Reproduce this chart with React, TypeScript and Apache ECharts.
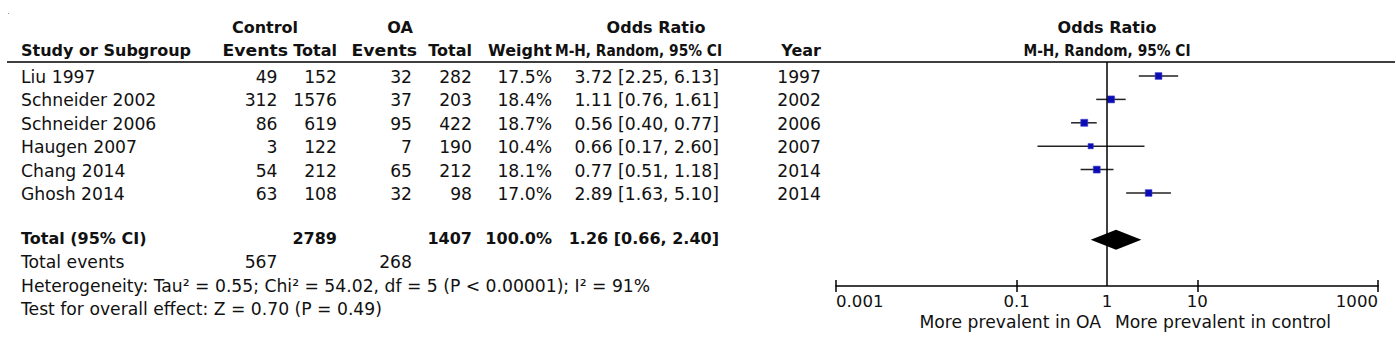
import React, { useEffect, useRef } from 'react';
import * as echarts from 'echarts';

// ---------- data ----------
const studies = ['Liu 1997', 'Schneider 2002', 'Schneider 2006', 'Haugen 2007', 'Chang 2014', 'Ghosh 2014'];
const controlEvents = [49, 312, 86, 3, 54, 63];
const controlTotal = [152, 1576, 619, 122, 212, 108];
const oaEvents = [32, 37, 95, 7, 65, 32];
const oaTotal = [282, 203, 422, 190, 212, 98];
const weights = [17.5, 18.4, 18.7, 10.4, 18.1, 17.0];
const oddsRatio = [3.72, 1.11, 0.56, 0.66, 0.77, 2.89];
const ciLow = [2.25, 0.76, 0.40, 0.17, 0.51, 1.63];
const ciHigh = [6.13, 1.61, 0.77, 2.60, 1.18, 5.10];
const years = [1997, 2002, 2006, 2007, 2014, 2014];

const totalLabel = 'Total (95% CI)';
const totalControl = 2789;
const totalOA = 1407;
const totalWeight = 100.0;
const totalOR = 1.26;
const totalLow = 0.66;
const totalHigh = 2.40;
const totalEventsLabel = 'Total events';
const totalEventsControl = 567;
const totalEventsOA = 268;
const heterogeneityText = 'Heterogeneity: Tau² = 0.55; Chi² = 54.02, df = 5 (P < 0.00001); I² = 91%';
const overallEffectText = 'Test for overall effect: Z = 0.70 (P = 0.49)';

const tickValues = [0.001, 0.1, 10, 1000];
const tickLabels = [0.001, 0.1, 1, 10, 1000];
const favourLeft = 'More prevalent in OA';
const favourRight = 'More prevalent in control';
const plotTitle = 'Odds Ratio';
const plotSubtitle = 'M-H, Random, 95% CI';

// ---------- layout ----------
const W = 1396;
const H = 357;
const FONT = '"DejaVu Sans", "Noto Sans", sans-serif';
const REG = `17.2px ${FONT}`;
const BOLD = `bold 16px ${FONT}`;
const INK = '#111';
const plotLeft = 836;
const plotRight = 18;
const plotTop = 62;
const plotBottomY = 286;
const rowStep = 23.4;
const firstRowY = 76;
const nameX = 21;
const col = {
  cEvents: 277.5,
  cTotal: 337,
  oEvents: 412,
  oTotal: 472,
  weight: 552,
  or: 719,
  year: 821,
};

const fmt2 = (v: number) => v.toFixed(2);
const orText = (o: number, l: number, h: number) => `${fmt2(o)} [${fmt2(l)}, ${fmt2(h)}]`;
const axisFmt = (v: number) => {
  const r = Math.pow(10, v);
  return r >= 1 ? String(Math.round(r)) : String(parseFloat(r.toPrecision(3)));
};

function txt(text: string, x: number, y: number, align: string, font: string, scaleX = 1) {
  return {
    type: 'text',
    x,
    y,
    scaleX,
    silent: true,
    style: { text, fill: INK, font, align, verticalAlign: 'middle' },
  };
}

export default function App() {
  const ref = useRef<HTMLDivElement>(null);

  useEffect(() => {
    if (!ref.current) return;
    const chart = echarts.init(ref.current, undefined, { renderer: 'svg' });

    const yMin = -(firstRowY - plotTop) / rowStep;
    const yMax = (plotBottomY - plotTop) / rowStep + yMin;
    const plotWidth = W - plotLeft - plotRight;
    const oneX = plotLeft + plotWidth / 2;

    const graphic: any[] = [];
    // header
    graphic.push(txt('Control', 265, 27, 'center', BOLD));
    graphic.push(txt('OA', 400, 27, 'center', BOLD));
    graphic.push(txt(plotTitle, 656, 27, 'center', BOLD));
    graphic.push(txt(plotTitle, oneX, 27, 'center', BOLD));
    graphic.push(txt('Study or Subgroup', nameX, 50.5, 'left', BOLD));
    graphic.push(txt('Events', 288, 50.5, 'right', BOLD, 1.08));
    graphic.push(txt('Total', col.cTotal, 50.5, 'right', BOLD));
    graphic.push(txt('Events', 417, 50.5, 'right', BOLD, 1.08));
    graphic.push(txt('Total', col.oTotal, 50.5, 'right', BOLD));
    graphic.push(txt('Weight', col.weight, 50.5, 'right', BOLD));
    graphic.push(txt(plotSubtitle, 722, 50.5, 'right', BOLD, 0.86));
    graphic.push(txt('Year', col.year, 50.5, 'right', BOLD));
    graphic.push(txt(plotSubtitle, oneX, 50.5, 'center', BOLD, 0.86));
    graphic.push({
      type: 'line',
      silent: true,
      shape: { x1: 7, y1: plotTop, x2: 1395, y2: plotTop },
      style: { stroke: '#000', lineWidth: 1.6 },
    });
    graphic.push({ type: 'rect', silent: true, shape: { x: 8, y: 13, width: 1, height: 1 }, style: { fill: '#999' } });

    // study rows
    studies.forEach((s, i) => {
      const y = firstRowY + 1 + i * rowStep;
      graphic.push(txt(s, nameX, y, 'left', REG));
      graphic.push(txt(String(controlEvents[i]), col.cEvents, y, 'right', REG));
      graphic.push(txt(String(controlTotal[i]), col.cTotal, y, 'right', REG));
      graphic.push(txt(String(oaEvents[i]), col.oEvents, y, 'right', REG));
      graphic.push(txt(String(oaTotal[i]), col.oTotal, y, 'right', REG));
      graphic.push(txt(`${weights[i].toFixed(1)}%`, col.weight, y, 'right', REG));
      graphic.push(txt(orText(oddsRatio[i], ciLow[i], ciHigh[i]), col.or, y, 'right', REG));
      graphic.push(txt(String(years[i]), col.year, y, 'right', REG));
    });

    // totals
    const tY = 238.5;
    graphic.push(txt(totalLabel, nameX, tY, 'left', BOLD));
    graphic.push(txt(String(totalControl), col.cTotal, tY, 'right', BOLD));
    graphic.push(txt(String(totalOA), col.oTotal, tY, 'right', BOLD));
    graphic.push(txt(`${totalWeight.toFixed(1)}%`, col.weight, tY, 'right', BOLD));
    graphic.push(txt(orText(totalOR, totalLow, totalHigh), col.or, tY, 'right', BOLD));
    graphic.push(txt(totalEventsLabel, nameX, 262, 'left', REG));
    graphic.push(txt(String(totalEventsControl), col.cEvents, 262, 'right', REG));
    graphic.push(txt(String(totalEventsOA), col.oEvents, 262, 'right', REG));
    graphic.push(txt(heterogeneityText, nameX, 285.5, 'left', REG));
    graphic.push(txt(overallEffectText, nameX, 309, 'left', REG));

    // favour labels
    graphic.push(txt(favourLeft, oneX - 6, 322, 'right', REG));
    graphic.push(txt(favourRight, oneX + 8, 322, 'left', REG));

    const studyData = studies.map((_, i) => [
      i,
      Math.log10(oddsRatio[i]),
      Math.log10(ciLow[i]),
      Math.log10(ciHigh[i]),
      weights[i],
    ]);
    const totalData = [[studies.length + 1, Math.log10(totalOR), Math.log10(totalLow), Math.log10(totalHigh)]];

    const logTicks = tickValues.map((v) => Math.log10(v));
    const logLabels = tickLabels.map((v) => Math.log10(v));

    chart.setOption({
      animation: false,
      backgroundColor: '#fff',
      grid: {
        left: plotLeft,
        right: plotRight,
        top: plotTop,
        bottom: H - plotBottomY,
        containLabel: false,
        outerBoundsMode: 'none',
      },
      xAxis: [
        {
          type: 'value',
          min: -3,
          max: 3,
          interval: 1,
          position: 'bottom',
          axisLine: { show: true, onZero: false, lineStyle: { color: '#000', width: 1.5 } },
          axisTick: { show: true, customValues: logTicks, length: 6, lineStyle: { color: '#000', width: 1.5 } },
          axisLabel: {
            show: true,
            customValues: logLabels,
            formatter: (v: number) => axisFmt(v),
            margin: 7,
            color: INK,
            fontSize: 16.6,
            fontFamily: FONT,
            alignMinLabel: 'left',
            alignMaxLabel: 'right',
          },
          splitLine: { show: false },
        },
        {
          type: 'value',
          min: -3,
          max: 3,
          interval: 1,
          position: 'bottom',
          axisLine: { show: false, onZero: false },
          axisTick: { show: true, inside: true, customValues: logTicks, length: 6, lineStyle: { color: '#000', width: 1.5 } },
          axisLabel: { show: false },
          splitLine: { show: false },
        },
      ],
      yAxis: {
        type: 'value',
        inverse: true,
        min: yMin,
        max: yMax,
        show: false,
        splitLine: { show: false },
      },
      series: [
        {
          type: 'custom',
          name: 'studies',
          xAxisIndex: 0,
          encode: { x: [1, 2, 3], y: 0 },
          data: studyData,
          renderItem: (params: any, api: any) => {
            const row = api.value(0);
            const c = api.coord([api.value(1), row]);
            const lo = api.coord([api.value(2), row]);
            const hi = api.coord([api.value(3), row]);
            const s = 1.62 * Math.sqrt(api.value(4));
            return {
              type: 'group',
              children: [
                {
                  type: 'line',
                  shape: { x1: lo[0], y1: lo[1], x2: hi[0], y2: hi[1] },
                  style: { stroke: '#222', lineWidth: 1.5 },
                },
                {
                  type: 'rect',
                  shape: { x: c[0] - s / 2, y: c[1] - s / 2, width: s, height: s },
                  style: { fill: '#0c0cb4', stroke: '#3a3ad0', lineWidth: 0.6 },
                },
              ],
            };
          },
          markLine: {
            silent: true,
            symbol: ['none', 'none'],
            label: { show: false },
            lineStyle: { color: '#000', width: 1.5, type: 'solid' },
            data: [{ xAxis: 0 }],
          },
        },
        {
          type: 'custom',
          name: 'total',
          xAxisIndex: 0,
          encode: { x: [1, 2, 3], y: 0 },
          data: totalData,
          renderItem: (params: any, api: any) => {
            const row = api.value(0);
            const c = api.coord([api.value(1), row]);
            const lo = api.coord([api.value(2), row]);
            const hi = api.coord([api.value(3), row]);
            const h = 10;
            return {
              type: 'polygon',
              shape: {
                points: [
                  [lo[0], lo[1]],
                  [c[0], c[1] - h],
                  [hi[0], hi[1]],
                  [c[0], c[1] + h],
                ],
              },
              style: { fill: '#000' },
            };
          },
        },
      ],
      graphic,
    });

    return () => chart.dispose();
  }, []);

  return (
    <div
      ref={ref}
      style={{ position: 'fixed', left: 0, top: 0, width: W, height: H, background: '#fff' }}
    />
  );
}
